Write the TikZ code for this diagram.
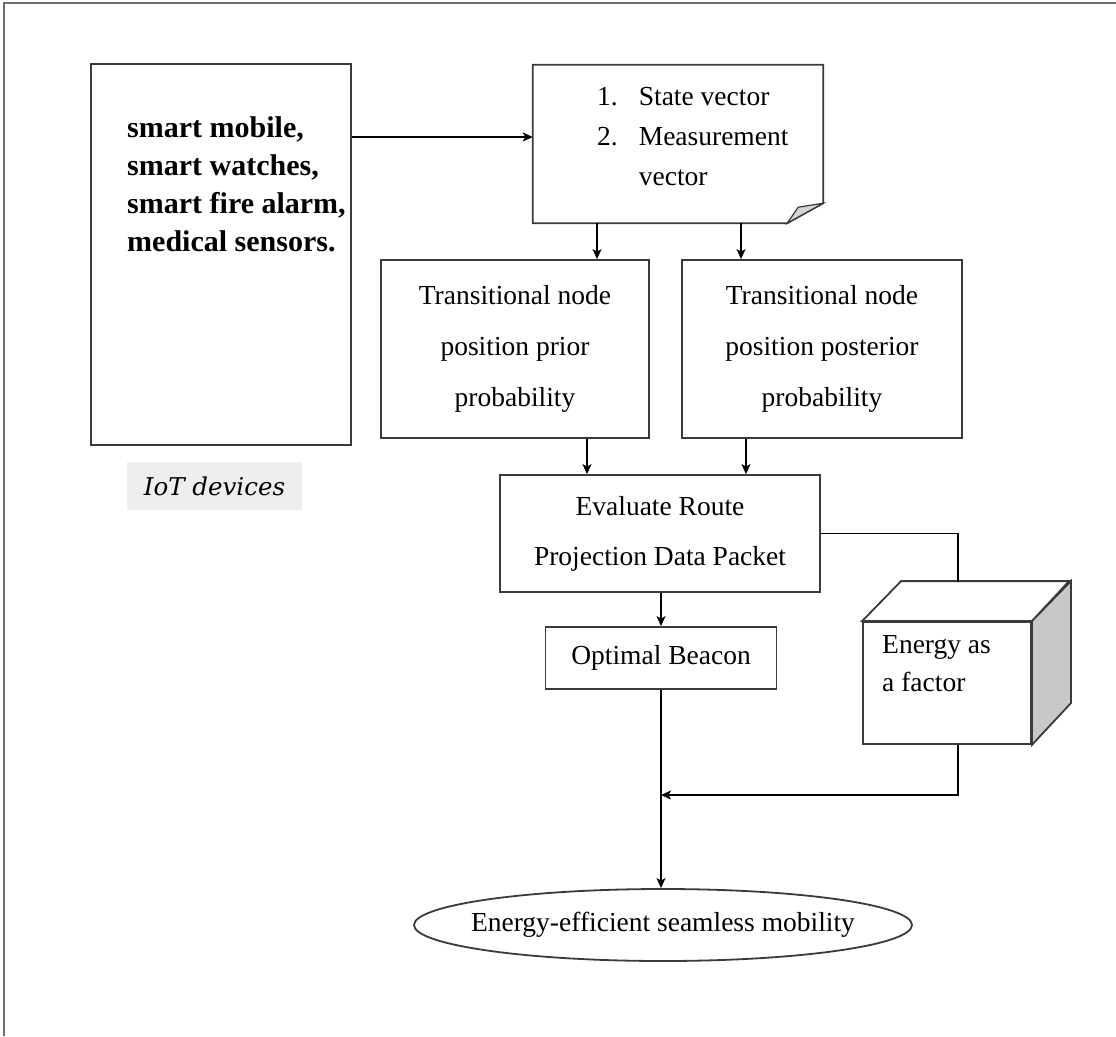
\documentclass[tikz,border=0pt]{standalone}
\usepackage{fontspec}
\setmainfont{Liberation Serif}
\newfontfamily\iotfont{DejaVu Serif}
\usetikzlibrary{arrows.meta,shapes.geometric,calc}
\definecolor{linec}{HTML}{3A3A3A}
\definecolor{framec}{HTML}{6E6E6E}
\definecolor{labelbg}{HTML}{EEEEEE}
\definecolor{foldc}{HTML}{D4D4D4}
\definecolor{cubeside}{HTML}{C8C8C8}
\begin{document}
\begin{tikzpicture}[x=1pt,y=-1pt,
  boxline/.style={draw=linec, line width=1.8pt, line join=miter},
  box/.style={boxline, rectangle, inner sep=0pt, fill=white},
  arr/.style={-{Stealth[length=10pt,width=9pt,inset=2.5pt]}, line width=1.4pt, draw=black},
  ln/.style={line width=1.4pt, draw=black},
  txt/.style={font=\fontsize{27.5}{51}\selectfont, align=center}]
\useasboundingbox (0,0) rectangle (1116,1036);
\draw[framec, line width=2pt] (4,1036) -- (4,3) -- (1116,3);

% IoT devices
\node[box, minimum width=260pt, minimum height=381pt] (iot) at (221,254.5) {};
\node[anchor=north west, inner sep=0pt, align=left, font=\bfseries\fontsize{30}{38}\selectfont] (iotlist) at (127,116) {smart mobile,\\smart watches,\\smart fire alarm,\\medical sensors.};
\node[fill=labelbg, minimum width=175pt, minimum height=48pt, inner sep=0pt, font=\iotfont\itshape\fontsize{24.5}{28}\selectfont] (iotlabel) at (214.5,486) {IoT devices};

% document
\node[minimum width=290pt, minimum height=158pt, inner sep=0pt] (doc) at (678,144) {};
\draw[boxline, fill=white] (doc.north west) -- (doc.north east) -- ([yshift=20pt]doc.south east) -- ([xshift=-36pt]doc.south east) -- (doc.south west) -- cycle;
\filldraw[boxline, line width=1.2pt, fill=foldc] ([xshift=-36pt]doc.south east) -- ([xshift=-25pt,yshift=16pt]doc.south east) -- ([yshift=20pt]doc.south east) -- cycle;
\node[anchor=north west, inner sep=0pt, font=\fontsize{27.5}{40}\selectfont] (doctext) at (597,77) {\begin{tabular}{@{}l@{\hspace{21pt}}l@{}}1.&State vector\\2.&Measurement\\&vector\end{tabular}};

% probability boxes
\node[box, txt, minimum width=268pt, minimum height=178pt] (prior) at (515,349) {Transitional node\\position prior\\probability};
\node[box, txt, minimum width=280pt, minimum height=178pt] (post) at (822,349) {Transitional node\\position posterior\\probability};

% evaluate
\node[box, txt, font=\fontsize{27.5}{50}\selectfont, minimum width=320pt, minimum height=117pt] (eval) at (660,533.5) {Evaluate Route\\Projection Data Packet};

% beacon
\node[box, txt, minimum width=231pt, minimum height=62pt] (beacon) at (661,658) {Optimal Beacon};

% cube
\node[box, minimum width=168pt, minimum height=122pt] (cube) at (947,683) {};
\filldraw[boxline, fill=white] (cube.north west) -- ++(39,-40) -- ++(168,0) -- (cube.north east) -- cycle;
\filldraw[boxline, fill=cubeside] (cube.north east) -- ++(39,-40) -- ++(0,122) -- (cube.south east) -- cycle;
\node[anchor=north west, inner sep=0pt, align=left, font=\fontsize{27.5}{38}\selectfont] (cubetext) at (882,635) {Energy as\\a factor};

% ellipse
\node[ellipse, boxline, fill=white, minimum width=498pt, minimum height=72pt, inner sep=0pt] (ell) at (663,925) {};
\node[inner sep=0pt, font=\fontsize{27.5}{32}\selectfont] (elltext) at (ell.center) {Energy-efficient seamless mobility};

% connectors
\coordinate (a1) at ([yshift=117.5pt]iot.east);
\draw[arr] (a1) -- (a1 -| doc.west);
\coordinate (d1) at ([xshift=-81pt]doc.south);
\coordinate (d2) at ([xshift=63pt]doc.south);
\draw[arr] (d1) -- (d1 |- prior.north);
\draw[arr] (d2) -- (d2 |- post.north);
\coordinate (p1) at ([xshift=72pt]prior.south);
\coordinate (p2) at ([xshift=-76pt]post.south);
\draw[arr] (p1) -- (p1 |- eval.north);
\draw[arr] (p2) -- (p2 |- eval.north);
\draw[arr] (beacon.north |- eval.south) -- (beacon.north);
\coordinate (ct) at (958,582);
\draw[ln] (eval.east) -| (ct);
\coordinate (cb) at ([xshift=11pt]cube.south);
\coordinate (j) at (661,795);
\draw[arr] (cb) |- (j);
\draw[arr] (beacon.south) -- (beacon.south |- ell.north);
\end{tikzpicture}
\end{document}
